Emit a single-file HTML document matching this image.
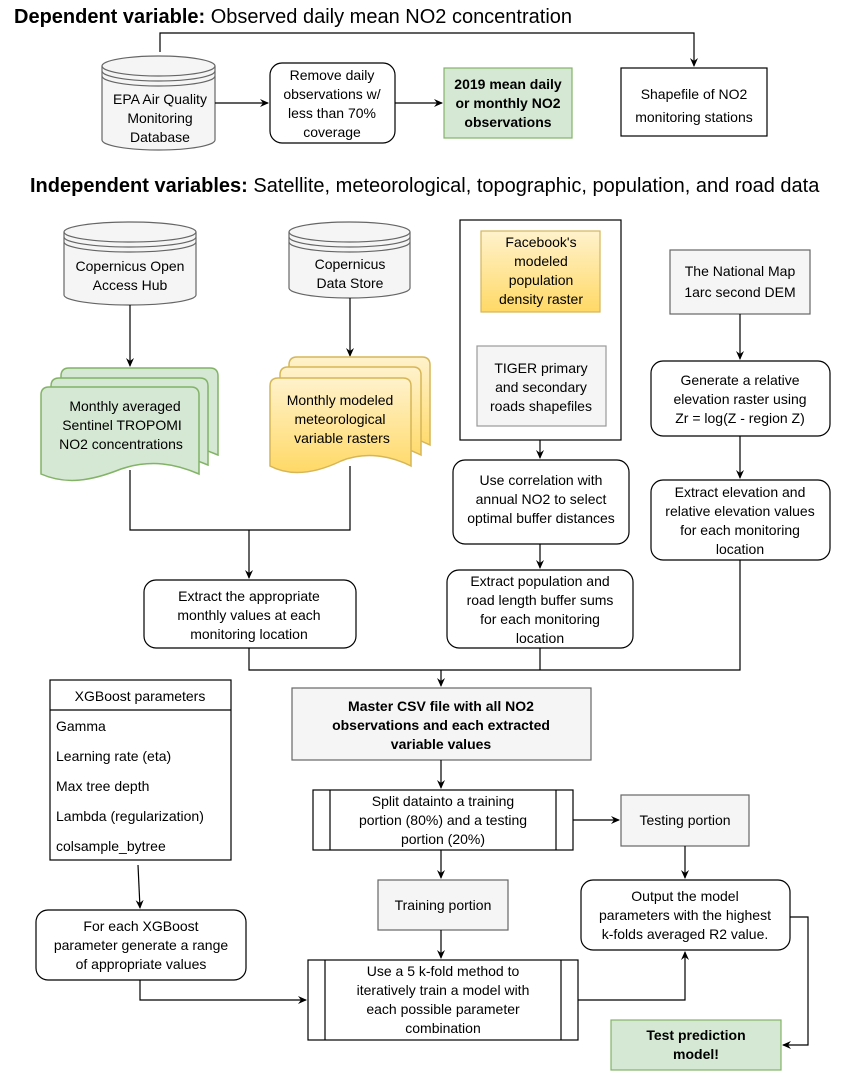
<!DOCTYPE html>
<html><head><meta charset="utf-8"><style>
html,body{margin:0;padding:0;background:#fff;}
svg{display:block;}
text{font-family:"Liberation Sans",Arial,sans-serif;font-size:14px;fill:#000;}
</style></head><body>
<svg width="841" height="1071" viewBox="0 0 841 1071" xmlns="http://www.w3.org/2000/svg">
<defs>
<marker id="a" markerWidth="10" markerHeight="10" refX="8" refY="5" orient="auto" markerUnits="userSpaceOnUse">
<path d="M0,1 L9,5 L0,9 L3,5 Z" fill="#000"/></marker>
<linearGradient id="yg" x1="0" y1="0" x2="0" y2="1"><stop offset="0" stop-color="#fff2cc"/><stop offset="1" stop-color="#ffd966"/></linearGradient>
</defs>
<g fill="none" stroke="#000" stroke-width="1.2">
<text x="14" y="23" style="font-size:20px;font-weight:bold" stroke="none">Dependent variable: <tspan font-weight="normal">Observed daily mean NO2 concentration</tspan></text>
<polyline points="160,52 160,33 694,33 694,66" marker-end="url(#a)"/>
<path d="M102,66 A56.5,10 0 0 1 215,66 V140 A56.5,10 0 0 1 102,140 Z" fill="#f5f5f5" stroke="#666"/>
<path d="M102,66 A56.5,10 0 0 0 215,66 M102,71 A56.5,10 0 0 0 215,71 M102,76 A56.5,10 0 0 0 215,76" stroke="#666"/>
<g stroke="none"><text x="160" y="104" text-anchor="middle" fill="#333">EPA Air Quality</text><text x="160" y="123" text-anchor="middle" fill="#333">Monitoring</text><text x="160" y="142" text-anchor="middle" fill="#333">Database</text></g>
<line x1="215" y1="103" x2="268" y2="103" marker-end="url(#a)"/>
<rect x="270" y="63" width="125" height="80" rx="12" fill="#fff"/>
<g stroke="none" text-anchor="middle"><text x="332" y="80">Remove daily</text><text x="332" y="99">observations w/</text><text x="332" y="118">less than 70%</text><text x="332" y="137">coverage</text></g>
<line x1="395" y1="103" x2="442" y2="103" marker-end="url(#a)"/>
<rect x="444" y="68" width="128" height="70" fill="#d5e8d4" stroke="#82b366"/>
<g stroke="none" text-anchor="middle" font-weight="bold"><text x="508" y="89">2019 mean daily</text><text x="508" y="108">or monthly NO2</text><text x="508" y="127">observations</text></g>
<rect x="621" y="68" width="146" height="68" fill="#fff"/>
<g stroke="none" text-anchor="middle"><text x="694" y="99">Shapefile of NO2</text><text x="694" y="122">monitoring stations</text></g>
<text x="30" y="192" style="font-size:20px;font-weight:bold" stroke="none">Independent variables: <tspan font-weight="normal">Satellite, meteorological, topographic, population, and road data</tspan></text>

<path d="M64,232 A66,10 0 0 1 196,232 V295 A66,10 0 0 1 64,295 Z" fill="#f5f5f5" stroke="#666"/>
<path d="M64,232 A66,10 0 0 0 196,232 M64,237 A66,10 0 0 0 196,237 M64,242 A66,10 0 0 0 196,242" stroke="#666"/>
<g stroke="none" text-anchor="middle"><text x="130" y="271" fill="#333">Copernicus Open</text><text x="130" y="290" fill="#333">Access Hub</text></g>
<path d="M289,232 A60.5,10 0 0 1 410,232 V288 A60.5,10 0 0 1 289,288 Z" fill="#f5f5f5" stroke="#666"/>
<path d="M289,232 A60.5,10 0 0 0 410,232 M289,237 A60.5,10 0 0 0 410,237 M289,242 A60.5,10 0 0 0 410,242" stroke="#666"/>
<g stroke="none" text-anchor="middle"><text x="350" y="269" fill="#333">Copernicus</text><text x="350" y="288" fill="#333">Data Store</text></g>
<line x1="130" y1="305" x2="130" y2="366" marker-end="url(#a)"/>
<line x1="350" y1="298" x2="350" y2="356" marker-end="url(#a)"/>

<g fill="#d5e8d4" stroke="#82b366" stroke-width="1.5">
<path d="M61,376 Q61,368 69,368 H210 Q218,368 218,376 V455 C195,445 170,440 140,450 C110,462 85,466 61,455 Z"/>
<path d="M51,386 Q51,378 59,378 H200 Q208,378 208,386 V465 C185,455 160,450 130,460 C100,472 75,476 51,465 Z"/>
<path d="M41,395 Q41,387 49,387 H191 Q199,387 199,395 V474 C176,464 151,459 121,469 C91,481 66,485 41,474 Z"/>
</g>
<g stroke="none" text-anchor="middle"><text x="125" y="411">Monthly averaged</text><text x="122" y="430">Sentinel TROPOMI</text><text x="121" y="449">NO2 concentrations</text></g>
<g fill="url(#yg)" stroke="#d6b656" stroke-width="1.5">
<path d="M289,365 Q289,357 297,357 H422 Q430,357 430,365 V445 C410,435 385,430 360,440 C335,452 310,456 289,445 Z"/>
<path d="M280,375 Q280,367 288,367 H413 Q421,367 421,375 V455 C401,445 376,440 351,450 C326,462 301,466 280,455 Z"/>
<path d="M270,386 Q270,378 278,378 H403 Q411,378 411,386 V466 C391,456 366,451 341,461 C316,473 291,477 270,466 Z"/>
</g>
<g stroke="none" text-anchor="middle"><text x="340" y="405">Monthly modeled</text><text x="340" y="424">meteorological</text><text x="342" y="443">variable rasters</text></g>
<polyline points="130,470 130,530 350,530 350,466"/>
<line x1="249" y1="530" x2="249" y2="578" marker-end="url(#a)"/>
<rect x="144" y="580" width="212" height="68" rx="12" fill="#fff"/>
<g stroke="none" text-anchor="middle"><text x="249" y="601">Extract the appropriate</text><text x="249" y="620">monthly values at each</text><text x="249" y="639">monitoring location</text></g>

<rect x="460" y="220" width="161" height="220" fill="#fff"/>
<rect x="481" y="231" width="119" height="81" fill="url(#yg)" stroke="#d6b656"/>
<g stroke="none" text-anchor="middle"><text x="541" y="247">Facebook's</text><text x="541" y="266">modeled</text><text x="541" y="285">population</text><text x="541" y="304">density raster</text></g>
<rect x="477" y="346" width="129" height="80" fill="#f5f5f5" stroke="#999"/>
<g stroke="none" text-anchor="middle"><text x="541" y="373" fill="#333">TIGER primary</text><text x="541" y="392" fill="#333">and secondary</text><text x="541" y="411" fill="#333">roads shapefiles</text></g>
<line x1="540" y1="440" x2="540" y2="458" marker-end="url(#a)"/>
<rect x="453" y="460" width="176" height="84" rx="12" fill="#fff"/>
<g stroke="none" text-anchor="middle"><text x="541" y="485">Use correlation with</text><text x="541" y="504">annual NO2 to select</text><text x="541" y="523">optimal buffer distances</text></g>
<line x1="540" y1="544" x2="540" y2="568" marker-end="url(#a)"/>
<rect x="447" y="570" width="186" height="78" rx="12" fill="#fff"/>
<g stroke="none" text-anchor="middle"><text x="540" y="586">Extract population and</text><text x="540" y="605">road length buffer sums</text><text x="540" y="624">for each monitoring</text><text x="540" y="643">location</text></g>

<rect x="670" y="250" width="140" height="64" fill="#f5f5f5" stroke="#666"/>
<g stroke="none" text-anchor="middle"><text x="740" y="276" fill="#333">The National Map</text><text x="740" y="297" fill="#333">1arc second DEM</text></g>
<line x1="740" y1="314" x2="740" y2="359" marker-end="url(#a)"/>
<rect x="651" y="361" width="179" height="75" rx="12" fill="#fff"/>
<g stroke="none" text-anchor="middle"><text x="740" y="385">Generate a relative</text><text x="740" y="404">elevation raster using</text><text x="740" y="423">Zr = log(Z - region Z)</text></g>
<line x1="740" y1="436" x2="740" y2="478" marker-end="url(#a)"/>
<rect x="651" y="480" width="179" height="80" rx="12" fill="#fff"/>
<g stroke="none" text-anchor="middle"><text x="740" y="497">Extract elevation and</text><text x="740" y="516">relative elevation values</text><text x="740" y="535">for each monitoring</text><text x="740" y="554">location</text></g>
<polyline points="740,560 740,670 249,670 249,648"/>
<line x1="540" y1="648" x2="540" y2="670"/>
<line x1="441" y1="670" x2="441" y2="686" marker-end="url(#a)"/>

<rect x="292" y="688" width="299" height="72" fill="#f5f5f5" stroke="#666"/>
<g stroke="none" text-anchor="middle" font-weight="bold"><text x="441" y="711" fill="#333">Master CSV file with all NO2</text><text x="441" y="730" fill="#333">observations and each extracted</text><text x="441" y="749" fill="#333">variable values</text></g>
<line x1="441" y1="760" x2="441" y2="788" marker-end="url(#a)"/>
<rect x="313" y="790" width="260" height="60" fill="#fff"/>
<line x1="330" y1="790" x2="330" y2="850"/><line x1="556" y1="790" x2="556" y2="850"/>
<g stroke="none" text-anchor="middle"><text x="443" y="806">Split datainto a training</text><text x="443" y="825">portion (80%) and a testing</text><text x="443" y="844">portion (20%)</text></g>
<line x1="573" y1="820" x2="619" y2="820" marker-end="url(#a)"/>
<rect x="621" y="795" width="128" height="51" fill="#f5f5f5" stroke="#666"/>
<text x="685" y="825" text-anchor="middle" stroke="none" fill="#333">Testing portion</text>
<line x1="441" y1="850" x2="441" y2="878" marker-end="url(#a)"/>
<rect x="378" y="880" width="130" height="50" fill="#f5f5f5" stroke="#666"/>
<text x="443" y="910" text-anchor="middle" stroke="none" fill="#333">Training portion</text>
<line x1="441" y1="930" x2="441" y2="958" marker-end="url(#a)"/>
<rect x="308" y="960" width="270" height="80" fill="#fff"/>
<line x1="325" y1="960" x2="325" y2="1040"/><line x1="561" y1="960" x2="561" y2="1040"/>
<g stroke="none" text-anchor="middle"><text x="443" y="976">Use a 5 k-fold method to</text><text x="443" y="995">iteratively train a model with</text><text x="443" y="1014">each possible parameter</text><text x="443" y="1033">combination</text></g>
<line x1="685" y1="846" x2="685" y2="878" marker-end="url(#a)"/>
<rect x="581" y="880" width="209" height="70" rx="12" fill="#fff"/>
<g stroke="none" text-anchor="middle"><text x="685" y="901">Output the model</text><text x="685" y="920">parameters with the highest</text><text x="685" y="939">k-folds averaged R2 value.</text></g>
<polyline points="578,1000 685,1000 685,952" marker-end="url(#a)"/>
<polyline points="790,917 808,917 808,1045 783,1045" marker-end="url(#a)"/>
<rect x="611" y="1020" width="170" height="50" fill="#d5e8d4" stroke="#82b366"/>
<g stroke="none" text-anchor="middle" font-weight="bold"><text x="696" y="1040" fill="#333">Test prediction</text><text x="696" y="1059" fill="#333">model!</text></g>

<rect x="50" y="680" width="181" height="180" fill="#fff"/>
<line x1="50" y1="710" x2="231" y2="710"/>
<g stroke="none"><text x="140" y="701" text-anchor="middle">XGBoost parameters</text><text x="56" y="731">Gamma</text><text x="56" y="761">Learning rate (eta)</text><text x="56" y="791">Max tree depth</text><text x="56" y="821">Lambda (regularization)</text><text x="56" y="851">colsample_bytree</text></g>
<line x1="138" y1="865" x2="140" y2="908" marker-end="url(#a)"/>
<rect x="36" y="910" width="210" height="70" rx="12" fill="#fff"/>
<g stroke="none" text-anchor="middle"><text x="141" y="931">For each XGBoost</text><text x="141" y="950">parameter generate a range</text><text x="141" y="969">of appropriate values</text></g>
<polyline points="140,980 140,1000 306,1000" marker-end="url(#a)"/>
</g>
</svg>
</body></html>
